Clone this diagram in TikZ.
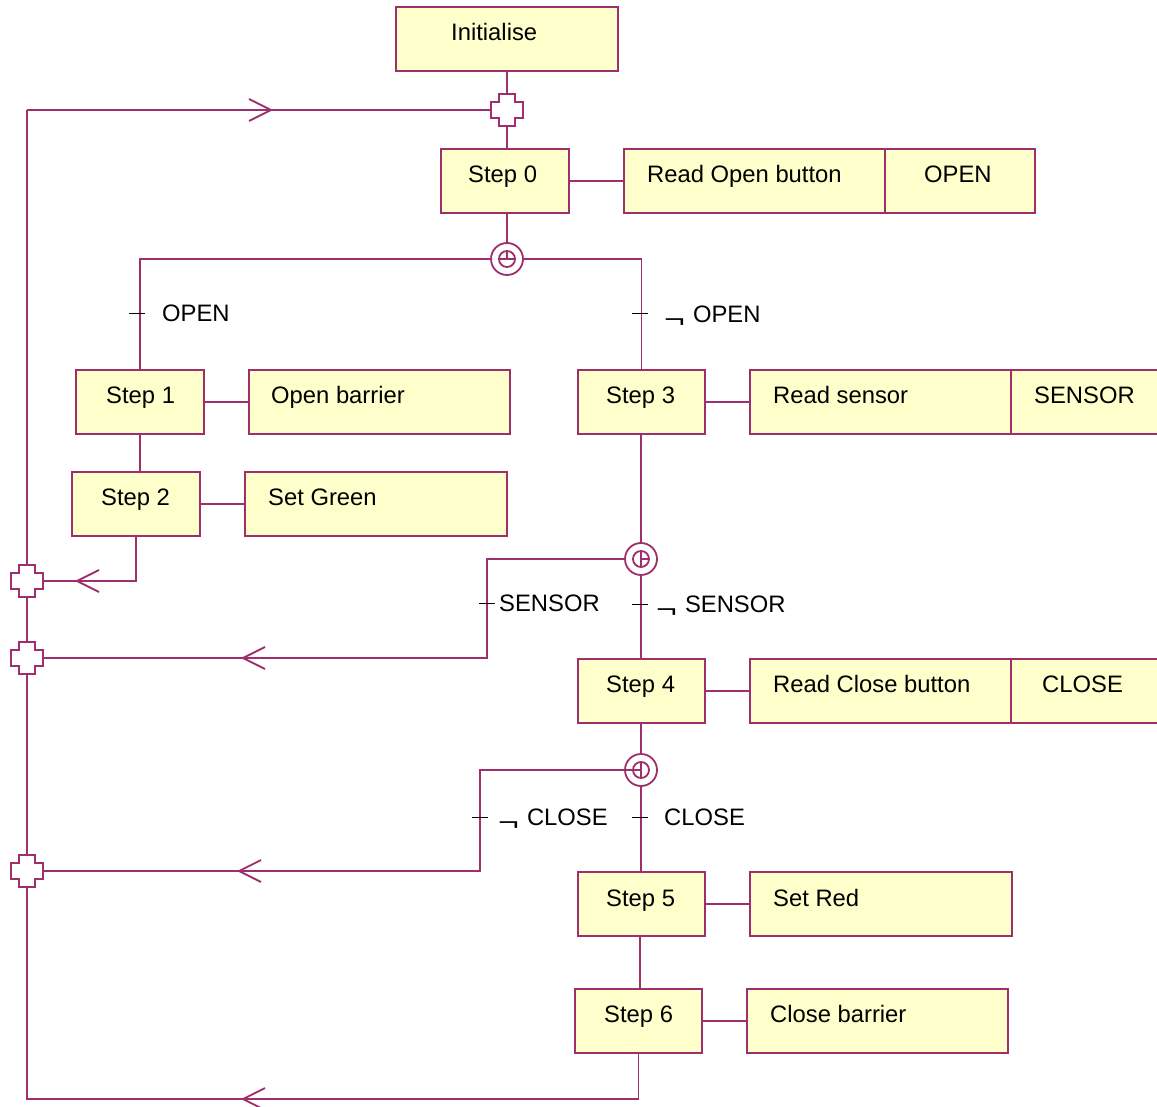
\documentclass[tikz,border=0pt]{standalone}
\usepackage{fontspec}
\usepackage{graphicx}
\setmainfont{Liberation Sans}
\usetikzlibrary{fit,calc}
\definecolor{wire}{RGB}{158,46,108}
\definecolor{boxfill}{RGB}{255,255,204}
\tikzset{
  line/.style={draw=wire, line width=1.8},
  boxst/.style={line, fill=boxfill, inner sep=0, rectangle},
  lbl/.style={anchor=base west, inner sep=0, font=\fontsize{23.8}{28}\selectfont},
  tick/.style={draw=black, line width=1},
  plusj/.pic={\draw[line, fill=white] (-8,-16) -- (8,-16) -- (8,-8) -- (16,-8) -- (16,8) -- (8,8) -- (8,16) -- (-8,16) -- (-8,8) -- (-16,8) -- (-16,-8) -- (-8,-8) -- cycle;},
  chev/.pic={\draw[line] (-22,-11) -- (0,0) -- (-22,11);},
  selj/.style={circle, line, fill=white, minimum size=32, inner sep=0},
}
% negation sign, set low and wide as in the condition labels
\newcommand\negsign{\raisebox{-5pt}{\scalebox{1.5}[1]{¬}}\hspace{8pt}}
% box: name, x1, y1, x2, y2, text x, text baseline, text
\newcommand\drawbox[8]{%
  \node[boxst, fit={(#2,#3)(#4,#5)}] (#1) {};
  \node[lbl] (#1-t) at (#6,#7) {#8};}
\begin{document}
\begin{tikzpicture}[x=1pt, y=-1pt]
\useasboundingbox (0,0) rectangle (1157,1107);
\clip (0,0) rectangle (1157,1107);

% junction points
\coordinate (j0) at (507,110);
\coordinate (L0) at (27,110);
\coordinate (jl1) at (27,581);
\coordinate (jl2) at (27,658);
\coordinate (jl3) at (27,871);
\coordinate (bl) at (27,1099);
\coordinate (b2) at (487,658);
\coordinate (b3) at (480,871);
\coordinate (c1) at (507,259);
\coordinate (c2) at (641,559);
\coordinate (c3) at (641,770);
\coordinate (k6) at (640,0);

% boxes
\drawbox{init}{396}{7}{618}{71}{451}{41}{Initialise}
\drawbox{s0}{441}{149}{569}{213}{468}{183}{Step 0}
\drawbox{rob}{624}{149}{885}{213}{647}{183}{Read Open button}
\drawbox{vopen}{885}{149}{1035}{213}{924}{183}{OPEN}
\drawbox{s1}{76}{370}{204}{434}{106}{403}{Step 1}
\drawbox{ob}{249}{370}{510}{434}{271}{403}{Open barrier}
\drawbox{s3}{578}{370}{705}{434}{606}{403}{Step 3}
\drawbox{rs}{750}{370}{1011}{434}{773}{403}{Read sensor}
\drawbox{vsens}{1011}{370}{1175}{434}{1034}{403}{SENSOR}
\drawbox{s2}{72}{472}{200}{536}{101}{505}{Step 2}
\drawbox{sg}{245}{472}{507}{536}{268}{505}{Set Green}
\drawbox{s4}{578}{659}{705}{723}{606}{692}{Step 4}
\drawbox{rcb}{750}{659}{1011}{723}{773}{692}{Read Close button}
\drawbox{vclose}{1011}{659}{1175}{723}{1042}{692}{CLOSE}
\drawbox{s5}{578}{872}{705}{936}{606}{906}{Step 5}
\drawbox{sr}{750}{872}{1012}{936}{773}{906}{Set Red}
\drawbox{s6}{575}{989}{702}{1053}{604}{1022}{Step 6}
\drawbox{cb}{747}{989}{1008}{1053}{770}{1022}{Close barrier}

% connectors
\draw[line] (j0 |- init.south) -- (j0) -- (j0 |- s0.north);
\draw[line] (L0) -- (j0);
\draw[line] (L0) -- (bl) -- (bl -| s6.south) -- (s6.south);
\draw[line] (s0.east) -- (rob.west);
\draw[line] (c1 |- s0.south) -- (c1);
\draw[line] (c1) -| (s1.north);
\draw[line] (c1) -| (s3.north);
\draw[line] (s1.east) -- (ob.west);
\draw[line] (s1.south) -- (s1.south |- s2.north);
\draw[line] (s2.east) -- (sg.west);
\draw[line] (s2.south) |- (jl1);
\draw[line] (s3.east) -- (rs.west);
\draw[line] (s3.south) -- (c2 |- s3.south) -- (c2);
\draw[line] (c2) -- (c2 |- s4.north);
\draw[line] (c2) -| (b2) -- (jl2);
\draw[line] (s4.east) -- (rcb.west);
\draw[line] (c3 |- s4.south) -- (c3) -- (c3 |- s5.north);
\draw[line] (c3) -| (b3) -- (jl3);
\draw[line] (s5.east) -- (sr.west);
\draw[line] (k6 |- s5.south) -- (k6 |- s6.north);
\draw[line] (s6.east) -- (cb.west);

% flow direction marks
\pic at (271,110) {chev};
\pic[xscale=-1] at (77,581) {chev};
\pic[xscale=-1] at (243,658) {chev};
\pic[xscale=-1] at (239,871) {chev};
\pic[xscale=-1] at (243,1099) {chev};

% merge junctions
\pic at (j0) {plusj};
\pic at (jl1) {plusj};
\pic at (jl2) {plusj};
\pic at (jl3) {plusj};

% selection junctions
\node[selj] (sel1) at (c1) {};
\draw[line] (c1) circle[radius=8];
\draw[line] ($(c1)+(-8,0)$) -- ($(c1)+(8,0)$);
\draw[line] (c1) -- ++(0,-8);
\node[selj] (sel2) at (c2) {};
\draw[line] (c2) circle[radius=8];
\draw[line] ($(c2)+(0,-8)$) -- ($(c2)+(0,8)$);
\draw[line] (c2) -- ++(8,0);
\node[selj] (sel3) at (c3) {};
\draw[line] (c3) circle[radius=8];
\draw[line] ($(c3)+(0,-8)$) -- ($(c3)+(0,8)$);
\draw[line] (sel3.west) -- (c3);

% conditions
\draw[tick] (129,314) -- (145,314);
\node[lbl] (cond1) at (162,322) {OPEN};
\draw[tick] (632,314) -- (648,314);
\node[lbl] (cond2) at (664,323) {\negsign OPEN};
\draw[tick] (479,603) -- (495,603);
\node[lbl] (cond3) at (499,611) {SENSOR};
\draw[tick] (632,604) -- (648,604);
\node[lbl] (cond4) at (656,612) {\negsign SENSOR};
\draw[tick] (472,817) -- (488,817);
\node[lbl] (cond5) at (498,825) {\negsign CLOSE};
\draw[tick] (632,817) -- (648,817);
\node[lbl] (cond6) at (664,825) {CLOSE};
\end{tikzpicture}
\end{document}
